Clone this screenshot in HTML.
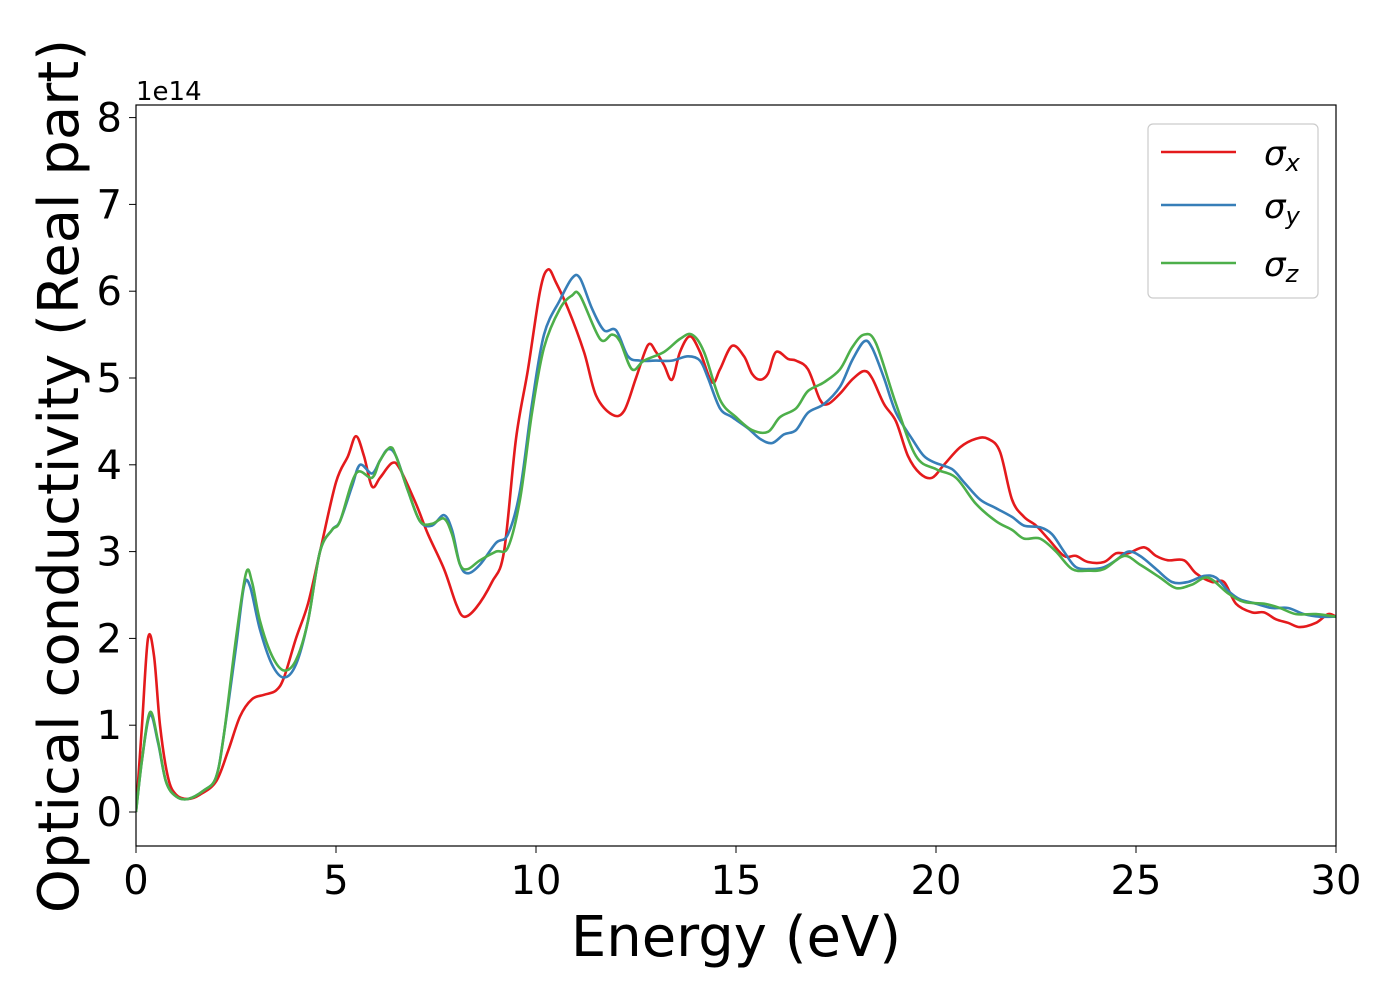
<!DOCTYPE html>
<html><head><meta charset="utf-8"><style>
body{margin:0;background:#fff;}
svg text{font-family:"DejaVu Sans","Liberation Sans",sans-serif;fill:#000;}
</style></head><body>
<svg id="chart" width="1400" height="1000" xmlns="http://www.w3.org/2000/svg">
<g id="series"></g>
<rect x="136" y="105" width="1200" height="741" fill="none" stroke="#000" stroke-width="1.2"/>
<g id="ticks"></g>
<text x="136" y="100" font-size="26">1e14</text>
<text x="736" y="956" font-size="56" text-anchor="middle">Energy (eV)</text>
<text transform="translate(78,476) rotate(-90)" font-size="56" text-anchor="middle">Optical conductivity (Real part)</text>
<g>
<rect x="1148" y="124" width="170" height="174" rx="5" fill="#fff" fill-opacity="0.8" stroke="#ccc" stroke-width="1.2"/>
<line x1="1161" y1="152" x2="1236" y2="152" stroke="#e41a1c" stroke-width="2.5"/>
<text x="1264" y="165" font-size="34" font-style="italic">σ<tspan font-size="24" dy="6">x</tspan></text>
<line x1="1161" y1="205" x2="1236" y2="205" stroke="#377eb8" stroke-width="2.5"/>
<text x="1264" y="218" font-size="34" font-style="italic">σ<tspan font-size="24" dy="6">y</tspan></text>
<line x1="1161" y1="263" x2="1236" y2="263" stroke="#4daf4a" stroke-width="2.5"/>
<text x="1264" y="276" font-size="34" font-style="italic">σ<tspan font-size="24" dy="6">z</tspan></text>
</g>
</svg>
<script>
const xTicks=[0,5,10,15,20,25,30];
const yTicks=[0,1,2,3,4,5,6,7,8];
const sigmaX=[[0,0],[0.15,1.0],[0.3,2.0],[0.45,1.8],[0.6,1.0],[0.8,0.4],[1.0,0.2],[1.3,0.15],[1.6,0.2],[2.0,0.35],[2.3,0.7],[2.6,1.1],[2.9,1.3],[3.2,1.35],[3.5,1.4],[3.7,1.55],[4.0,2.0],[4.3,2.4],[4.6,3.0],[5.0,3.8],[5.3,4.1],[5.5,4.33],[5.7,4.1],[5.9,3.75],[6.1,3.85],[6.4,4.02],[6.6,3.95],[7.0,3.55],[7.3,3.2],[7.7,2.8],[8.0,2.4],[8.2,2.25],[8.5,2.35],[8.9,2.65],[9.2,3.0],[9.5,4.3],[9.8,5.1],[10.1,6.0],[10.3,6.25],[10.5,6.1],[10.8,5.8],[11.2,5.3],[11.5,4.8],[11.9,4.58],[12.2,4.62],[12.5,5.0],[12.8,5.38],[13.0,5.3],[13.2,5.15],[13.4,4.98],[13.6,5.3],[13.85,5.48],[14.1,5.3],[14.4,4.95],[14.6,5.1],[14.9,5.37],[15.2,5.25],[15.4,5.05],[15.6,4.98],[15.8,5.05],[16.0,5.3],[16.3,5.22],[16.5,5.2],[16.8,5.1],[17.1,4.75],[17.3,4.7],[17.6,4.82],[17.9,4.98],[18.2,5.08],[18.4,5.0],[18.7,4.7],[19.0,4.5],[19.3,4.1],[19.6,3.9],[19.9,3.85],[20.2,4.0],[20.6,4.2],[21.0,4.3],[21.3,4.3],[21.6,4.15],[21.9,3.6],[22.2,3.4],[22.5,3.3],[22.8,3.15],[23.2,2.95],[23.5,2.95],[23.8,2.88],[24.2,2.88],[24.5,2.98],[24.8,2.98],[25.2,3.05],[25.5,2.95],[25.8,2.9],[26.2,2.9],[26.5,2.75],[26.9,2.65],[27.2,2.65],[27.5,2.4],[27.9,2.3],[28.2,2.3],[28.5,2.22],[28.8,2.18],[29.1,2.13],[29.5,2.18],[29.8,2.28],[30,2.25]];
const sigmaY=[[0,0],[0.15,0.6],[0.35,1.12],[0.55,0.8],[0.75,0.35],[1.0,0.18],[1.3,0.15],[1.7,0.25],[2.0,0.4],[2.2,0.9],[2.5,1.9],[2.7,2.6],[2.85,2.6],[3.1,2.1],[3.4,1.7],[3.7,1.55],[4.0,1.7],[4.3,2.2],[4.6,3.0],[4.9,3.25],[5.1,3.35],[5.4,3.75],[5.6,4.0],[5.9,3.9],[6.1,4.05],[6.3,4.18],[6.5,4.1],[6.8,3.7],[7.1,3.35],[7.4,3.3],[7.7,3.42],[7.9,3.25],[8.1,2.85],[8.3,2.75],[8.6,2.85],[9.0,3.1],[9.3,3.2],[9.6,3.7],[9.9,4.7],[10.2,5.5],[10.6,5.9],[10.9,6.15],[11.1,6.15],[11.4,5.8],[11.7,5.55],[12.0,5.55],[12.3,5.25],[12.6,5.2],[13.0,5.2],[13.4,5.2],[13.8,5.25],[14.1,5.2],[14.3,5.0],[14.6,4.65],[14.9,4.55],[15.3,4.42],[15.6,4.3],[15.9,4.25],[16.2,4.35],[16.5,4.4],[16.8,4.6],[17.2,4.7],[17.6,4.9],[17.9,5.2],[18.2,5.42],[18.4,5.35],[18.7,5.0],[19.0,4.6],[19.4,4.3],[19.7,4.1],[20.0,4.02],[20.4,3.95],[20.7,3.8],[21.1,3.6],[21.5,3.5],[21.9,3.4],[22.2,3.3],[22.6,3.28],[22.9,3.2],[23.2,3.0],[23.5,2.82],[23.9,2.8],[24.2,2.82],[24.5,2.9],[24.8,3.0],[25.1,2.95],[25.5,2.8],[25.9,2.65],[26.3,2.65],[26.7,2.72],[27.0,2.7],[27.3,2.55],[27.6,2.45],[28.0,2.4],[28.4,2.35],[28.8,2.35],[29.2,2.28],[29.6,2.25],[30,2.25]];
const sigmaZ=[[0,0],[0.15,0.6],[0.35,1.15],[0.55,0.82],[0.75,0.35],[1.0,0.18],[1.3,0.15],[1.7,0.25],[2.0,0.4],[2.2,0.9],[2.5,2.0],[2.75,2.75],[2.9,2.65],[3.1,2.2],[3.4,1.8],[3.7,1.63],[4.0,1.75],[4.3,2.2],[4.6,3.0],[4.9,3.25],[5.1,3.35],[5.5,3.9],[5.9,3.85],[6.1,4.05],[6.35,4.2],[6.5,4.1],[6.8,3.7],[7.1,3.35],[7.4,3.32],[7.7,3.38],[7.9,3.2],[8.1,2.85],[8.3,2.8],[8.6,2.9],[9.0,3.0],[9.3,3.05],[9.6,3.6],[9.9,4.6],[10.2,5.35],[10.6,5.8],[10.9,5.95],[11.1,5.95],[11.6,5.45],[11.9,5.5],[12.1,5.42],[12.4,5.1],[12.7,5.2],[13.2,5.3],[13.6,5.45],[13.9,5.5],[14.2,5.3],[14.6,4.75],[15.0,4.55],[15.4,4.4],[15.8,4.38],[16.1,4.55],[16.5,4.65],[16.8,4.85],[17.2,4.95],[17.6,5.1],[17.9,5.35],[18.2,5.5],[18.5,5.4],[19.0,4.7],[19.5,4.1],[20.0,3.95],[20.5,3.85],[21.0,3.55],[21.5,3.35],[21.9,3.25],[22.2,3.15],[22.6,3.15],[23.0,3.0],[23.4,2.8],[23.8,2.78],[24.2,2.8],[24.7,2.95],[25.1,2.85],[25.6,2.7],[26.0,2.58],[26.4,2.62],[26.8,2.7],[27.3,2.52],[27.7,2.42],[28.2,2.4],[28.6,2.35],[29.0,2.28],[29.5,2.28],[30,2.25]];

const X0=136,X1=1336,XMIN=0,XMAX=30;
const Y0=812,YPER=86.8;
function sx(v){return X0+(v-XMIN)/(XMAX-XMIN)*(X1-X0);}
function sy(v){return Y0-v*YPER;}
const NS="http://www.w3.org/2000/svg";
function smoothPath(pts){
  const p=pts.map(d=>[sx(d[0]),sy(d[1])]);
  let d="M"+p[0][0].toFixed(1)+","+p[0][1].toFixed(1);
  for(let i=0;i<p.length-1;i++){
    const a=p[i-1]||p[i],b=p[i],c=p[i+1],e=p[i+2]||c;
    const c1x=b[0]+(c[0]-a[0])/6,c1y=b[1]+(c[1]-a[1])/6;
    const c2x=c[0]-(e[0]-b[0])/6,c2y=c[1]-(e[1]-b[1])/6;
    d+=" C"+c1x.toFixed(1)+","+c1y.toFixed(1)+" "+c2x.toFixed(1)+","+c2y.toFixed(1)+" "+c[0].toFixed(1)+","+c[1].toFixed(1);
  }
  return d;
}
const g=document.getElementById("series");
const clip=document.createElementNS(NS,"clipPath");clip.setAttribute("id","pc");
const cr=document.createElementNS(NS,"rect");cr.setAttribute("x",136);cr.setAttribute("y",105);cr.setAttribute("width",1200);cr.setAttribute("height",741);
clip.appendChild(cr);document.getElementById("chart").appendChild(clip);
g.setAttribute("clip-path","url(#pc)");
[[sigmaX,"#e41a1c","line-sigma-x"],[sigmaY,"#377eb8","line-sigma-y"],[sigmaZ,"#4daf4a","line-sigma-z"]].forEach(s=>{
  const p=document.createElementNS(NS,"path");
  p.setAttribute("d",smoothPath(s[0]));p.setAttribute("fill","none");p.setAttribute("stroke",s[1]);p.setAttribute("stroke-width","2.6");
  
  
  g.appendChild(p);
});
const t=document.getElementById("ticks");
xTicks.forEach(v=>{
  const l=document.createElementNS(NS,"line");
  l.setAttribute("x1",sx(v));l.setAttribute("x2",sx(v));l.setAttribute("y1",846);l.setAttribute("y2",853);l.setAttribute("stroke","#000");
  
  
  t.appendChild(l);
  const tx=document.createElementNS(NS,"text");
  tx.setAttribute("x",sx(v));tx.setAttribute("y",894);tx.setAttribute("font-size","40");tx.setAttribute("text-anchor","middle");tx.textContent=v;
  
  
  t.appendChild(tx);
});
yTicks.forEach(v=>{
  const l=document.createElementNS(NS,"line");
  l.setAttribute("x1",129);l.setAttribute("x2",136);l.setAttribute("y1",sy(v));l.setAttribute("y2",sy(v));l.setAttribute("stroke","#000");
  
  
  t.appendChild(l);
  const tx=document.createElementNS(NS,"text");
  tx.setAttribute("x",122);tx.setAttribute("y",sy(v)+14);tx.setAttribute("font-size","40");tx.setAttribute("text-anchor","end");tx.textContent=v;
  
  
  t.appendChild(tx);
});
</script>
</body></html>
